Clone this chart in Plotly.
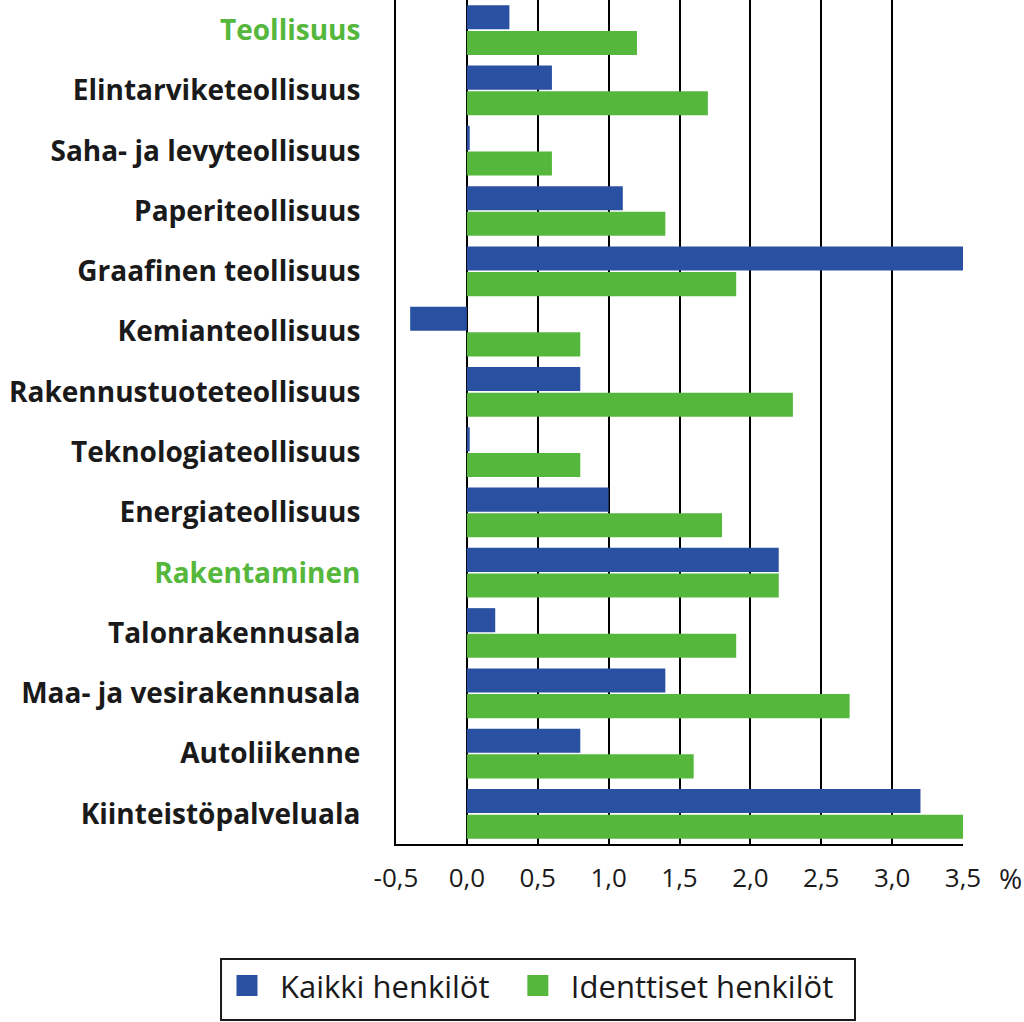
import plotly.graph_objects as go

categories = [
    "Teollisuus", "Elintarviketeollisuus", "Saha- ja levyteollisuus", "Paperiteollisuus",
    "Graafinen teollisuus", "Kemianteollisuus", "Rakennustuoteteollisuus", "Teknologiateollisuus",
    "Energiateollisuus", "Rakentaminen", "Talonrakennusala", "Maa- ja vesirakennusala",
    "Autoliikenne", "Kiinteistöpalveluala",
]
highlight = ["Teollisuus", "Rakentaminen"]
kaikki = [0.3, 0.6, 0.02, 1.1, 3.5, -0.4, 0.8, 0.02, 1.0, 2.2, 0.2, 1.4, 0.8, 3.2]
identtiset = [1.2, 1.7, 0.6, 1.4, 1.9, 0.8, 2.3, 0.8, 1.8, 2.2, 1.9, 2.7, 1.6, 3.5]
x_ticks = [-0.5, 0.0, 0.5, 1.0, 1.5, 2.0, 2.5, 3.0, 3.5]
x_ticktext = [f"{v:.1f}".replace(".", ",") for v in x_ticks]
series_names = ["Kaikki henkilöt", "Identtiset henkilöt"]

BLUE = "#2a50a2"
GREEN = "#55b73b"
TEXT = "#1a1a1a"
FONT = "Open Sans"

fig = go.Figure()
fig.add_trace(go.Bar(y=categories, x=kaikki, orientation="h", marker=dict(color=BLUE, line=dict(width=0)),
                     name=series_names[0], showlegend=False))
fig.add_trace(go.Bar(y=categories, x=identtiset, orientation="h", marker=dict(color=GREEN, line=dict(width=0)),
                     name=series_names[1], showlegend=False))
# legend entries with larger square swatches, one per legend so they can be placed freely
for nm, col, lg in zip(series_names, [BLUE, GREEN], ["legend", "legend2"]):
    fig.add_trace(go.Scatter(x=[None], y=[None], mode="markers", name=nm, legend=lg,
                             marker=dict(symbol="square", size=16, color=col, line=dict(color=col, width=5))))

ticktext = [
    f'<b><span style="color:{GREEN}">{c}</span></b>' if c in highlight else f"<b>{c}</b>"
    for c in categories
]

legend_common = dict(orientation="h", yanchor="top", xanchor="left", y=-0.136,
                     bgcolor="rgba(0,0,0,0)", borderwidth=0, itemwidth=56,
                     font=dict(size=31, family=FONT, color=TEXT))

fig.update_layout(
    width=1024, height=1022,
    margin=dict(l=396, r=61, t=0, b=178),
    paper_bgcolor="white", plot_bgcolor="white",
    font=dict(family=FONT, color=TEXT, size=24),
    barmode="group", bargap=0.15, bargroupgap=0.06,
    showlegend=True,
    legend=dict(x=-0.321, **legend_common),
    legend2=dict(x=0.192, **legend_common),
    shapes=[dict(type="rect", xref="paper", yref="paper",
                 x0=-0.3086, x1=0.8095, y0=-0.2085, y1=-0.1363,
                 line=dict(color=TEXT, width=2), fillcolor="rgba(0,0,0,0)", layer="above")],
    annotations=[dict(text="%", xref="paper", yref="paper", x=1.083, y=-0.04,
                      xanchor="center", yanchor="middle", showarrow=False,
                      font=dict(size=28, family=FONT, color=TEXT))],
)
fig.update_xaxes(
    range=[-0.5, 3.5], tickvals=x_ticks, ticktext=x_ticktext,
    showgrid=True, gridcolor="black", gridwidth=2,
    zeroline=True, zerolinecolor="black", zerolinewidth=2,
    showline=True, linecolor="black", linewidth=2,
    ticks="", ticklabelstandoff=10, tickfont=dict(size=26, family=FONT, color=TEXT),
)
fig.update_yaxes(
    categoryorder="array", categoryarray=categories, autorange="reversed",
    tickvals=categories, ticktext=ticktext,
    showline=True, linecolor="black", linewidth=2, showgrid=False,
    ticks="", ticklabelstandoff=28, tickfont=dict(size=28, family=FONT, color=TEXT),
)

fig.write_html("out.html", config={"displayModeBar": False},
               post_script="document.body.style.margin='0';")
